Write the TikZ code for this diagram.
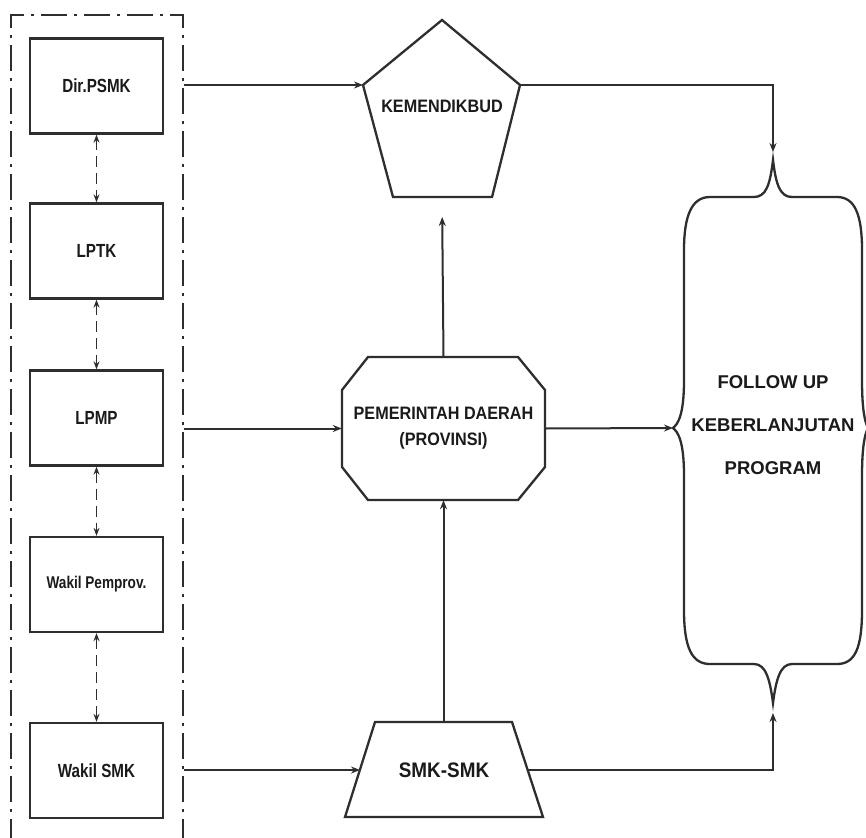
\documentclass[tikz,border=0pt]{standalone}
\usepackage{fontspec}
\setmainfont{Liberation Sans}
\newfontfamily\boxfont[FakeStretch=0.8]{Liberation Sans}
\newfontfamily\midfont[FakeStretch=0.9]{Liberation Sans}
\usetikzlibrary{arrows.meta}
\definecolor{linec}{HTML}{2E2E2E}
\definecolor{txtc}{HTML}{1A1A1A}
\begin{document}
\begin{tikzpicture}[x=1pt,y=-1pt,
  line/.style={draw=linec, line width=2pt},
  arr/.style={line, -{Stealth[length=9pt,width=7pt]}},
  darr/.style={draw=linec, line width=1.8pt, {Stealth[length=8pt,width=6pt]}-{Stealth[length=8pt,width=6pt]}, dash pattern=on 11pt off 6pt},
  lbox/.style={draw=linec, line width=2.3pt, minimum width=133pt, minimum height=95pt, text=txtc, font=\boxfont\bfseries\fontsize{19}{22}\selectfont},
  grpbox/.style={draw=linec, line width=1.9pt, dash pattern=on 26pt off 7pt on 3pt off 7pt},
  shapeline/.style={draw=linec, line width=2.3pt, line join=miter},
  midtext/.style={text=txtc, font=\midfont\bfseries\fontsize{18}{26}\selectfont, align=center}
]
\useasboundingbox[fill=white] (0,0) rectangle (866,837);

% group border
\node[grpbox, minimum width=172pt, minimum height=830pt] (grp) at (97,430) {};

% left boxes
\node[lbox] (dir) at (96.5,86) {Dir.PSMK};
\node[lbox] (lptk) at (96.5,251) {LPTK};
\node[lbox] (lpmp) at (96.5,418) {LPMP};
\node[lbox, font=\boxfont\bfseries\fontsize{17}{20}\selectfont] (wpp) at (96.5,584.5) {Wakil Pemprov.};
\node[lbox] (wsmk) at (96.5,770.5) {Wakil SMK};

\draw[darr] (dir.south) -- (lptk.north);
\draw[darr] (lptk.south) -- (lpmp.north);
\draw[darr] (lpmp.south) -- (wpp.north);
\draw[darr] (wpp.south) -- (wsmk.north);

% KEMENDIKBUD pentagon
\draw[shapeline] (442,20) -- (520,85) -- (492,197) -- (393,197) -- (363,85) -- cycle;
\coordinate (kL) at (363,85);
\coordinate (kR) at (520,85);
\coordinate (kB) at (442,197);
\node[midtext] (kem) at (442,106) {KEMENDIKBUD};

% PEMERINTAH DAERAH octagon
\draw[shapeline] (368,357) -- (518,357) -- (545,390) -- (545,467) -- (518,500) -- (368,500) -- (342,467) -- (342,390) -- cycle;
\node[midtext, minimum width=203pt, minimum height=143pt, inner sep=0pt] (oct) at (443.5,428.5) {PEMERINTAH DAERAH\\(PROVINSI)};

% SMK-SMK trapezoid
\draw[shapeline] (375,722) -- (512,722) -- (543,817) -- (345,817) -- cycle;
\node[midtext, font=\midfont\bfseries\fontsize{21}{24}\selectfont] (smk) at (444,770) {SMK-SMK};
\coordinate (smkT) at (443.5,722);
\coordinate (smkL) at (360,770);
\coordinate (smkR) at (528,770);

% FOLLOW UP brace shape
\draw[shapeline] (773,160) .. controls (776,185) and (780,197) .. (792,197) -- (837,197)
  .. controls (855,197) and (862,215) .. (862,250) -- (862,380)
  .. controls (862,415) and (866,424) .. (868,428)
  .. controls (866,432) and (862,441) .. (862,476) -- (862,610)
  .. controls (862,648) and (855,664) .. (837,664) -- (792,664)
  .. controls (780,664) and (776,680) .. (773,703)
  .. controls (770,680) and (766,664) .. (754,664) -- (710,664)
  .. controls (692,664) and (684,648) .. (684,610) -- (684,476)
  .. controls (684,441) and (678,432) .. (673,428)
  .. controls (678,424) and (684,415) .. (684,380) -- (684,250)
  .. controls (684,215) and (692,197) .. (710,197) -- (754,197)
  .. controls (766,197) and (770,185) .. (773,160) -- cycle;
\coordinate (bT) at (773,160);
\coordinate (bB) at (773,703);
\coordinate (bL) at (673,428);
\node[text=txtc, font=\bfseries\fontsize{18.5}{43}\selectfont, align=center] (fu) at (773,425) {FOLLOW UP\\KEBERLANJUTAN\\PROGRAM};

% connectors
\draw[arr] (grp.east |- kL) -- (kL);
\draw[arr] (grp.east |- oct.west) -- (oct.west);
\draw[arr] (grp.east |- smkL) -- (smkL);
\draw[arr, shorten >=8pt] (kR) -- (kR -| bT) -- (bT);
\draw[arr, shorten >=10pt] (smkR) -- (smkR -| bB) -- (bB);
\draw[arr] (oct.east) -- (bL);
\draw[arr] (smkT) -- (oct.south);
\draw[arr, shorten >=20pt] (oct.north) -- (kB);
\end{tikzpicture}
\end{document}
